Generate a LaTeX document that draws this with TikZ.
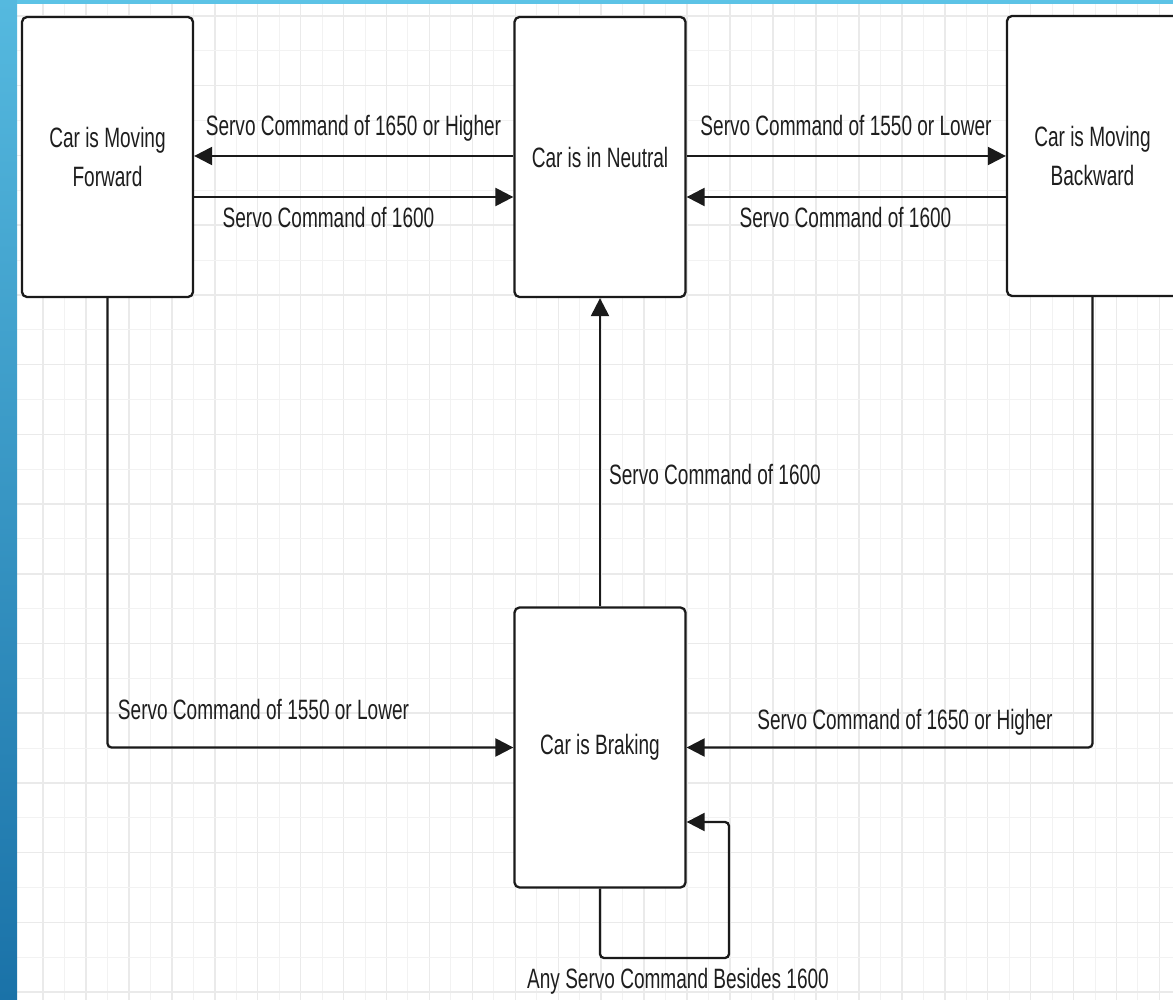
\documentclass[tikz,border=0pt]{standalone}
\usepackage{fontspec}
\setmainfont{Liberation Sans}[FakeStretch=0.68]
\usetikzlibrary{arrows.meta}
\definecolor{bandtop}{HTML}{55B9DF}
\definecolor{bandbot}{HTML}{1A72A8}
\definecolor{topband}{HTML}{5CC3E6}
\definecolor{lineblack}{HTML}{1A1A1A}
\definecolor{textgray}{HTML}{1E1E1E}
\definecolor{gridminor}{HTML}{F2F2F2}
\definecolor{gridmajor}{HTML}{EAEAEA}
\begin{document}
\begin{tikzpicture}[x=1pt,y=-1pt,
  font=\fontsize{28}{39}\selectfont,
  state/.style={draw=lineblack, line width=2.3pt, fill=white, rounded corners=5pt,
    minimum width=171pt, minimum height=280pt, inner sep=0pt, align=center, text=textgray},
  conn/.style={draw=lineblack, line width=2.3pt, -{Triangle[length=18pt,width=18pt]}, rounded corners=4pt},
  lbl/.style={anchor=base, inner sep=0pt, text=textgray}]
\useasboundingbox (0,0) rectangle (1173,1000);
\clip (0,0) rectangle (1173,1000);
\fill[white] (0,0) rectangle (1173,1000);
% grid
\foreach \m in {0,...,26} {
  \draw[gridminor, line width=1pt] ({64.47+42.94*\m},0) -- ({64.47+42.94*\m},1000);
}
\foreach \m in {0,...,27} {
  \draw[gridmajor, line width=1.5pt] ({43+42.94*\m},0) -- ({43+42.94*\m},1000);
}
\foreach \m in {-1,...,13} {
  \draw[gridminor, line width=1pt] (0,{50.86+69.72*\m}) -- (1173,{50.86+69.72*\m});
}
\foreach \m in {0,...,14} {
  \draw[gridmajor, line width=1.5pt] (0,{16+69.72*\m}) -- (1173,{16+69.72*\m});
}
% frame bands
\shade[top color=bandtop, bottom color=bandbot] (0,0) rectangle (17,1000);
\fill[topband] (17,0) rectangle (1173,4);
% states
\node[state] (fwd) at (107.5,157) {Car is Moving\\Forward};
\node[state] (neu) at (600,157) {Car is in Neutral};
\node[state] (bwd) at (1092.5,156) {Car is Moving\\Backward};
\node[state] (brk) at (600,747.5) {Car is Braking};
% helper coordinates
\coordinate (r1) at (0,156);
\coordinate (r2) at (0,197);
\coordinate (lpA) at (729,958);
\coordinate (lpB) at (0,822);
% connectors
\draw[conn] (neu.west |- r1) -- (fwd.east |- r1);
\draw[conn] (fwd.east |- r2) -- (neu.west |- r2);
\draw[conn] (neu.east |- r1) -- (bwd.west |- r1);
\draw[conn] (bwd.west |- r2) -- (neu.east |- r2);
\draw[conn] (brk.north) -- (neu.south);
\draw[conn] (fwd.south) -- (fwd.south |- brk.west) -- (brk.west);
\draw[conn] (bwd.south) -- (bwd.south |- brk.east) -- (brk.east);
\draw[conn] (brk.south) |- (lpA) |- (brk.east |- lpB);
% labels
\node[lbl] (l1) at (353.5,136) {Servo Command of 1650 or Higher};
\node[lbl] (l2) at (328.5,228) {Servo Command of 1600};
\node[lbl] (l3) at (846,136) {Servo Command of 1550 or Lower};
\node[lbl] (l4) at (845.5,228) {Servo Command of 1600};
\node[lbl, anchor=base west] (l5) at (609,484) {Servo Command of 1600};
\node[lbl] (l6) at (263.5,719) {Servo Command of 1550 or Lower};
\node[lbl] (l7) at (905,729) {Servo Command of 1650 or Higher};
\node[lbl] (l8) at (678,988) {Any Servo Command Besides 1600};
\end{tikzpicture}
\end{document}
